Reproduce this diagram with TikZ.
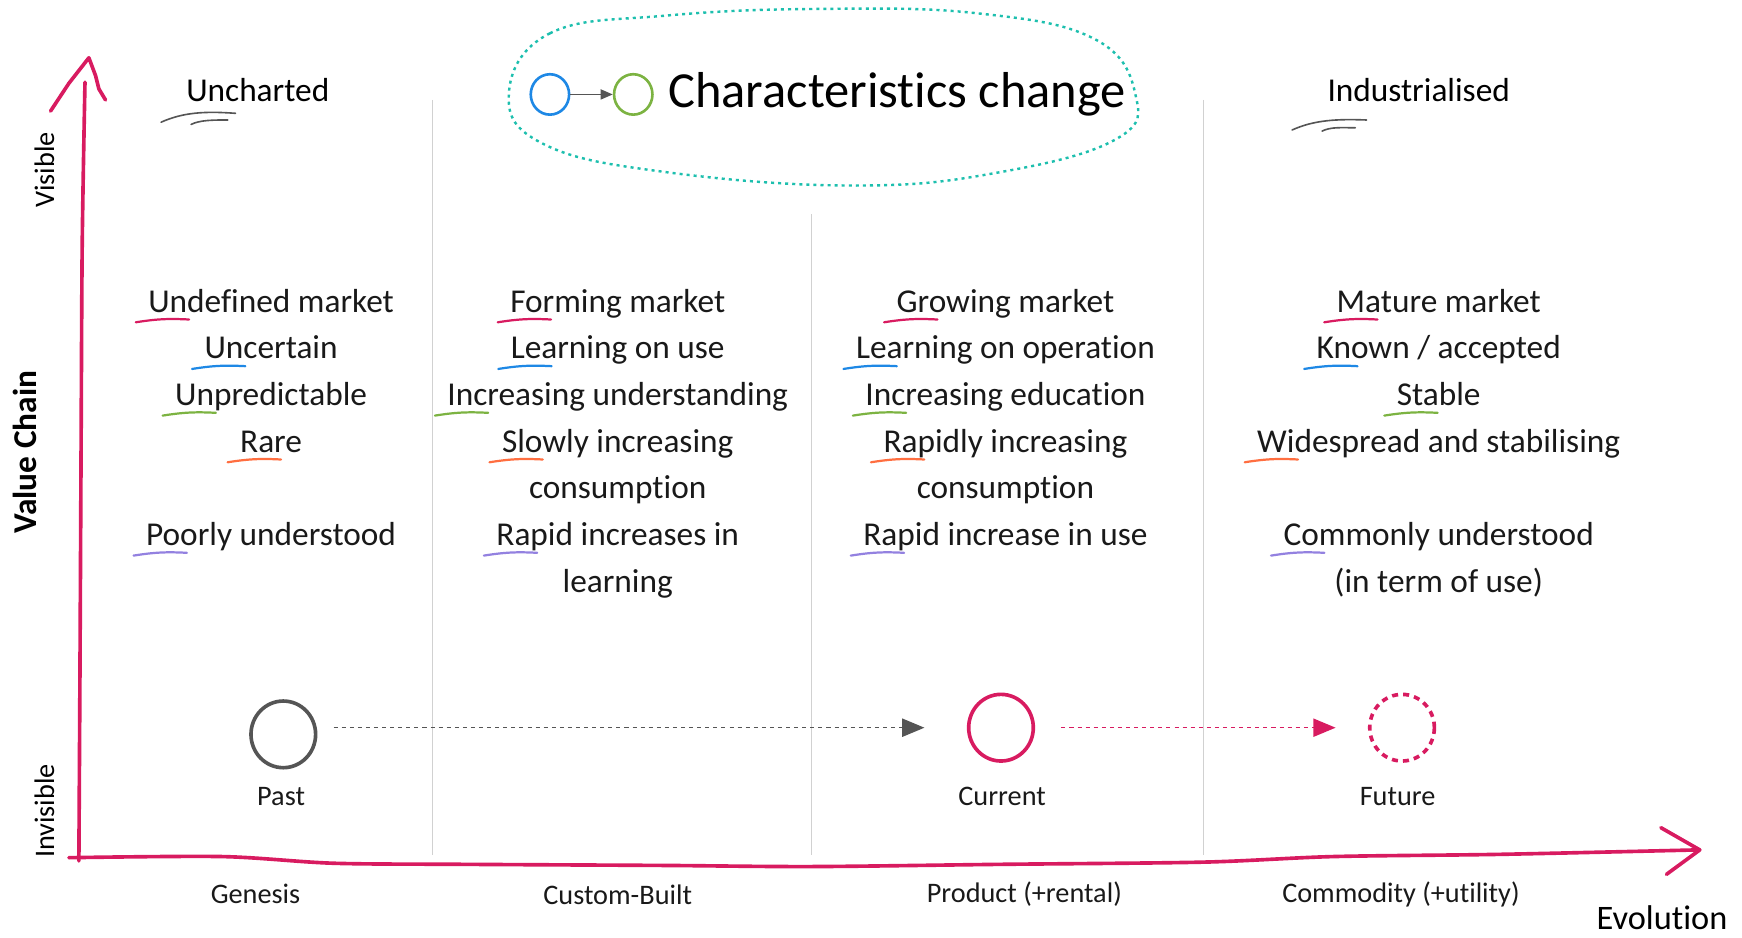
\documentclass[tikz,border=0pt]{standalone}
\usepackage{fontspec}
\setmainfont{Carlito}[Ligatures=NoCommon]
\usetikzlibrary{positioning,arrows.meta,shapes.geometric}
\definecolor{axisred}{HTML}{D81B60}
\definecolor{cloud}{HTML}{1DBFAE}
\definecolor{mkpink}{HTML}{D81B60}
\definecolor{mkblue}{HTML}{1E88E5}
\definecolor{mkgreen}{HTML}{7CB342}
\definecolor{mkorange}{HTML}{FF6E40}
\definecolor{mkpurple}{HTML}{9381E0}
\definecolor{inkgray}{HTML}{555555}
\tikzset{
  trait/.style={font=\fontsize{16.5}{20}\selectfont, text=black!90, inner sep=0pt, anchor=base},
  ulmark/.style={line width=1.1pt, line cap=round},
  hand/.style={draw=axisred, line width=1.8pt, line cap=round, line join=round},
  divider/.style={draw=black!18, line width=0.5pt},
  stage/.style={font=\fontsize{14}{16}\selectfont, text=black!90},
  blob/.style={ellipse, minimum width=32pt, minimum height=33pt, inner sep=0pt, line width=1.8pt},
  swoosh/.style={draw=inkgray, line width=0.8pt, line cap=round},
}

\begin{document}
\begin{tikzpicture}[x=0.55pt,y=-0.55pt]
  \useasboundingbox (0,0) rectangle (1568,844);

  % column dividers
  \foreach \x/\t in {389/90,730/193,1083/90}
    \draw[divider] (\x,\t) -- (\x,770);

  % value chain axis
  \draw[hand] plot[smooth] coordinates {(71,775) (72,600) (73,400) (74,220) (76.5,74)};
  \draw[hand] (45.5,100) -- (62,75) -- (80,52) -- (86,68) -- (89,80) -- (95,90);
  % evolution axis
  \draw[hand] plot[smooth] coordinates {(62,772) (200,771) (300,777) (420,778) (600,779) (730,780)
    (900,778) (1083,776) (1200,771) (1350,769) (1528,765)};
  \draw[hand] (1495,745) -- (1530,765) -- (1500,787);

  \node[rotate=90, font=\fontsize{14}{16}\selectfont] (visible) at (40,153) {Visible};
  \node[rotate=90, font=\fontsize{14}{16}\selectfont] (invisible) at (40,730) {Invisible};
  \node[rotate=90, font=\fontsize{16.5}{20}\selectfont\bfseries] (valuechain) at (22,407) {Value Chain};
  \node[font=\fontsize{17}{20}\selectfont, inner sep=0pt] (evolution) at (1496,826) {Evolution};

  % headers
  \node[font=\fontsize{16.5}{20}\selectfont] (uncharted) at (232,81) {Uncharted};
  \draw[swoosh] (145,110) .. controls (165,101) and (185,100) .. (212,102);
  \draw[swoosh] (172,112) .. controls (180,108) and (192,108) .. (205,108);
  \node[font=\fontsize{16.5}{20}\selectfont] (industrialised) at (1277,81) {Industrialised};
  \draw[swoosh] (1163,117) .. controls (1183,108) and (1203,107) .. (1230,108);
  \draw[swoosh] (1190,118) .. controls (1198,114) and (1208,115) .. (1220,115);

  % characteristics change cloud
  \draw[cloud, line width=1.2pt, dash pattern=on 1.5pt off 2pt] plot[smooth cycle, tension=0.7] coordinates {
    (458,85) (495,30) (600,14) (740,8) (880,12) (985,35) (1022,85)
    (1005,125) (900,155) (770,167) (600,155) (490,130)};
  \node[blob, draw=mkblue, line width=1.3pt, minimum width=19pt, minimum height=20pt] (blueC) at (495,85) {};
  \node[blob, draw=mkgreen, line width=1.3pt, minimum width=19pt, minimum height=20pt] (greenC) at (570,85) {};
  \draw[inkgray, line width=0.7pt, -{Triangle[length=6pt,width=5pt]}] (blueC) -- (greenC);
  \node[right=7pt of greenC, inner sep=0pt, font=\fontsize{25}{28}\selectfont] (title) {Characteristics change};

  % Genesis column
  \foreach \r/\t in {1/Undefined market,2/Uncertain,3/Unpredictable,4/Rare,6/Poorly understood}
    \node[trait] (g\r) at (244,{281+42*(\r-1)}) {\t};
  % Custom-Built column
  \foreach \r/\t in {1/Forming market,2/Learning on use,3/Increasing understanding,
      4/Slowly increasing,5/consumption,6/Rapid increases in,7/learning}
    \node[trait] (c\r) at (556,{281+42*(\r-1)}) {\t};
  % Product column
  \foreach \r/\t in {1/Growing market,2/Learning on operation,3/Increasing education,
      4/Rapidly increasing,5/consumption,6/Rapid increase in use}
    \node[trait] (p\r) at (905,{281+42*(\r-1)}) {\t};
  % Commodity column
  \foreach \r/\t in {1/Mature market,2/{Known / accepted},3/Stable,
      4/Widespread and stabilising,6/Commonly understood,7/(in term of use)}
    \node[trait] (u\r) at (1295,{281+42*(\r-1)}) {\t};

  % coloured marks under each trait
  \foreach \col in {g,c,p,u}
    \foreach \r/\c in {1/mkpink,2/mkblue,3/mkgreen,4/mkorange,6/mkpurple}
      \draw[ulmark, \c] ([xshift=-6pt,yshift=-5pt]\col\r.base west) to[bend left=6] ++(48,-2.5);

  % stages
  \node[stage] (genesis) at (230,805) {Genesis};
  \node[stage] (custom) at (556,805) {Custom-Built};
  \node[stage] (product) at (922,805) {Product (+rental)};
  \node[stage] (commodity) at (1261,805) {Commodity (+utility)};

  % component movement
  \node[blob, draw=inkgray] (past) at (255,661) {};
  \node[blob, draw=axisred] (current) at (901,655) {};
  \node[blob, draw=axisred, dash pattern=on 3pt off 2.5pt] (future) at (1262,655) {};
  \node[stage] (pastlbl) at (253,717) {Past};
  \node[stage] (currentlbl) at (902,717) {Current};
  \node[stage] (futurelbl) at (1258,717) {Future};
  \draw[inkgray, line width=0.7pt, dash pattern=on 2pt off 2pt, shorten <=8pt, shorten >=21pt,
    -{Triangle[length=11pt,width=9pt]}] (past.east |- current) -- (current.west);
  \draw[axisred, line width=0.7pt, dash pattern=on 2pt off 2pt, shorten <=13pt, shorten >=16pt,
    -{Triangle[length=11pt,width=9pt]}] (current.east) -- (future.west);
\end{tikzpicture}
\end{document}
